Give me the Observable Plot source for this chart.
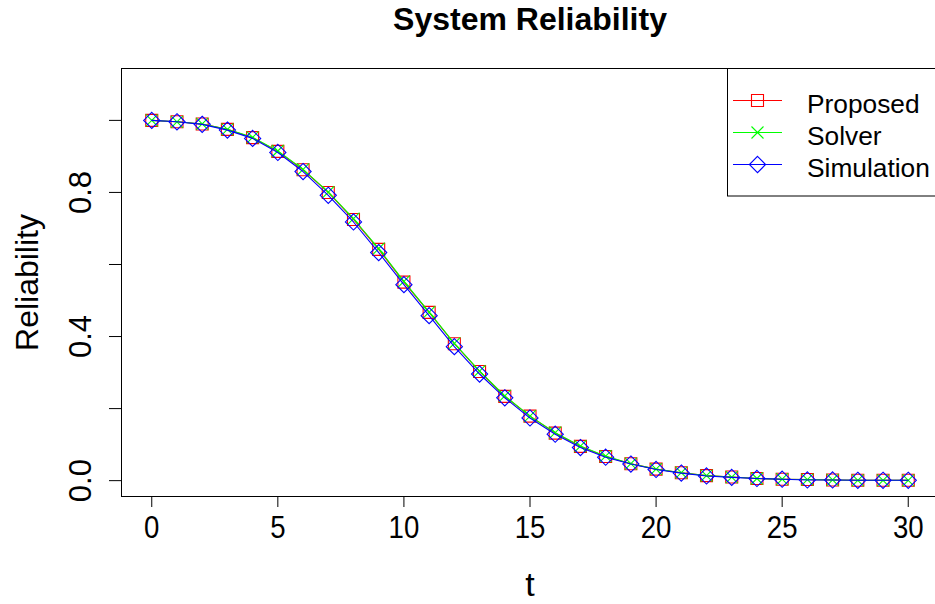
<!DOCTYPE html>
<html>
<head>
<meta charset="utf-8">
<script src="https://cdn.jsdelivr.net/npm/d3@7"></script>
<script src="https://cdn.jsdelivr.net/npm/@observablehq/plot@0.6"></script>
<style>
  html, body { margin: 0; padding: 0; background: #fff; }
  #chart svg { display: block; }
</style>
</head>
<body>
<div id="chart"></div>
<script>
// ---- data ----
const t = [0,1,2,3,4,5,6,7,8,9,10,11,12,13,14,15,16,17,18,19,20,21,22,23,24,25,26,27,28,29,30];
const proposed   = [1.000,0.996,0.990,0.975,0.952,0.914,0.863,0.800,0.725,0.642,0.551,0.467,0.380,0.303,0.234,0.179,0.132,0.095,0.067,0.047,0.032,0.022,0.014,0.010,0.006,0.004,0.003,0.002,0.001,0.001,0.001];
const solver     = [1.000,0.996,0.990,0.975,0.953,0.915,0.864,0.801,0.727,0.644,0.553,0.468,0.381,0.304,0.235,0.179,0.133,0.096,0.068,0.047,0.032,0.022,0.014,0.010,0.006,0.004,0.003,0.002,0.001,0.001,0.001];
const simulation = [1.000,0.996,0.989,0.973,0.950,0.911,0.858,0.792,0.718,0.633,0.544,0.458,0.372,0.296,0.230,0.174,0.129,0.092,0.065,0.046,0.031,0.021,0.013,0.009,0.006,0.004,0.002,0.002,0.001,0.001,0.001];
const seriesNames = ["Proposed","Solver","Simulation"];
const seriesColors = ["#ff0000","#00ff00","#0000ff"];
const xTicks = [0,5,10,15,20,25,30];
const yTicks = [0,0.2,0.4,0.6,0.8,1.0];
const yTickLabels = [0,0.4,0.8];
const titleText = "System Reliability";
const xLabel = "t";
const yLabel = "Reliability";

// ---- custom R-like symbols ----
const rOf = size => Math.sqrt(size / Math.PI);
const squareSym = {draw(ctx, size){ const r = rOf(size); ctx.moveTo(-r,-r); ctx.lineTo(r,-r); ctx.lineTo(r,r); ctx.lineTo(-r,r); ctx.closePath(); }};
const crossSym = {draw(ctx, size){ const r = rOf(size); ctx.moveTo(-r,-r); ctx.lineTo(r,r); ctx.moveTo(-r,r); ctx.lineTo(r,-r); }};
const diamondSym = {draw(ctx, size){ const r = rOf(size)*1.35; ctx.moveTo(0,-r); ctx.lineTo(r,0); ctx.lineTo(0,r); ctx.lineTo(-r,0); ctx.closePath(); }};
const symbols = [squareSym, crossSym, diamondSym];

const seriesValues = [proposed, solver, simulation];
const rows = [];
seriesNames.forEach((name, i) => {
  t.forEach((tv, j) => rows.push({series: name, t: tv, r: seriesValues[i][j]}));
});

const FONT = "'Liberation Sans', Arial, Helvetica, sans-serif";

const marks = [];
seriesNames.forEach((name, i) => {
  const d = rows.filter(r => r.series === name);
  marks.push(Plot.line(d, {x: "t", y: "r", stroke: seriesColors[i], strokeWidth: 1.1}));
  marks.push(Plot.dot(d, {x: "t", y: "r", stroke: seriesColors[i], fill: "none", strokeWidth: 1.1, r: 6, symbol: symbols[i]}));
});

const chart = Plot.plot({
  width: 935,
  height: 604,
  marginLeft: 121,
  marginRight: -3,
  marginTop: 68,
  marginBottom: 108,
  style: {fontFamily: FONT, color: "#000", background: "#fff", overflow: "hidden"},
  x: {domain: [-1.2, 31.2]},
  y: {domain: [-0.044, 1.144]},
  marks: [
    ...marks,
    Plot.frame({stroke: "#000", strokeWidth: 1}),
    Plot.axisX({ticks: xTicks, tickSize: 11, tickPadding: 8, fontSize: 31, label: null, tickFormat: d => String(d), stroke: "#000"}),
    Plot.axisY({ticks: yTicks, tickSize: 12, label: null, tickFormat: () => "", stroke: "#000"}),
    Plot.text(yTickLabels, {y: d => d, frameAnchor: "left", dx: -53, rotate: -90, text: d => d.toFixed(1), textAnchor: "middle", lineAnchor: "top", fontSize: 31, fill: "#000", ariaLabel: "y-tick-labels"}),
    Plot.text([yLabel], {frameAnchor: "left", dx: -106, rotate: -90, textAnchor: "middle", lineAnchor: "top", fontSize: 32, fill: "#000"}),
    Plot.text([xLabel], {frameAnchor: "bottom", dy: 75, textAnchor: "middle", lineAnchor: "top", fontSize: 34, fill: "#000", ariaLabel: "x-title"}),
    Plot.text([titleText], {frameAnchor: "top", dy: -61, textAnchor: "middle", lineAnchor: "top", fontSize: 32, fontWeight: "bold", fill: "#000"})
  ]
});

document.getElementById("chart").appendChild(chart);

// narrow the tick-label glyphs a little (R/Windows Arial rendering is taller and narrower)
const svg = d3.select(chart);
function squeeze(sel, k) {
  sel.each(function() {
    const el = d3.select(this);
    const tr = el.attr("transform");
    if (tr) {
      el.attr("transform", tr + ` scale(${k},1)`);
    } else {
      const x = +el.attr("x") || 0, y = +el.attr("y") || 0;
      el.attr("x", null).attr("y", null).attr("transform", `translate(${x},${y}) scale(${k},1)`);
    }
  });
}
squeeze(svg.selectAll('g[aria-label="x-axis tick label"] text'), 0.89);
squeeze(svg.selectAll('g[aria-label="y-tick-labels"] text'), 0.89);
squeeze(svg.selectAll('g[aria-label="x-title"] text'), 0.89);

// ---- legend (top-right, R style) ----
const lg = svg.append("g").attr("font-family", FONT).attr("text-anchor", "start");
lg.append("rect").attr("x", 727.5).attr("y", 68.5).attr("width", 220).attr("height", 127.5)
  .attr("fill", "#fff").attr("stroke", "#000").attr("stroke-width", 1);
seriesNames.forEach((name, i) => {
  const y = 100.5 + i * 32;
  lg.append("line").attr("x1", 733).attr("x2", 782).attr("y1", y).attr("y2", y)
    .attr("stroke", seriesColors[i]).attr("stroke-width", 1.1);
  const p = d3.path();
  symbols[i].draw(p, Math.PI * 36);
  lg.append("path").attr("d", p.toString()).attr("transform", `translate(757.5,${y})`)
    .attr("fill", "none").attr("stroke", seriesColors[i]).attr("stroke-width", 1.1);
  lg.append("text").attr("x", 807).attr("y", y + 12).attr("font-size", 26.3)
    .attr("text-anchor", "start").attr("fill", "#000").text(name);
});
</script>
</body>
</html>
